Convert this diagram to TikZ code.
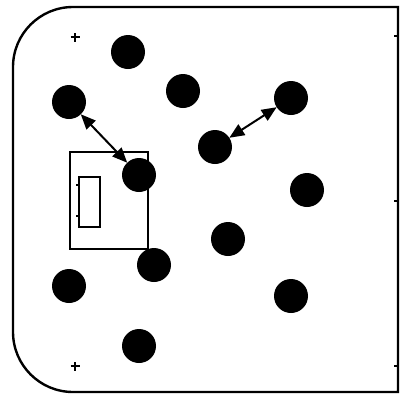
\documentclass[tikz,border=0pt]{standalone}
\usetikzlibrary{arrows.meta}
\begin{document}
\begin{tikzpicture}[x=1pt,y=-1pt,
  dot/.style={circle,fill=black,minimum size=34pt,inner sep=0pt,outer sep=0pt},
  link/.style={line width=2pt,{Triangle[length=15pt,width=12.5pt]}-{Triangle[length=15pt,width=12.5pt]}},
  frame/.style={line width=2.4pt},
  box/.style={line width=2.4pt},
  tick/.style={line width=1.8pt},
  plus/.style={line width=1.8pt}]
\useasboundingbox (0,0) rectangle (400,394);
% outline
\draw[frame] (398,7) -- (73,7) arc[start angle=90,end angle=180,radius=60pt] -- (13,332) arc[start angle=180,end angle=270,radius=60pt] -- (398,392) -- cycle;
% right ticks
\foreach \yy in {36,201,366} \draw[tick] (394,\yy) -- (398,\yy);
% plus marks
\coordinate (p1) at (75,37);
\coordinate (p2) at (75,366);
\foreach \p in {p1,p2} {
  \draw[plus] ([xshift=-4.5pt]\p) -- ([xshift=4.5pt]\p);
  \draw[plus] ([yshift=-4.5pt]\p) -- ([yshift=4.5pt]\p);
}
% rectangles
\draw[box] (70,152) rectangle (148,249);
\draw[line width=2pt] (79,177) rectangle (100,227);
\draw[tick] (76,185) -- (79,185);
\draw[tick] (76,216) -- (79,216);
% dots
\node[dot] (c1) at (128,52) {};
\node[dot] (c2) at (183,91) {};
\node[dot] (c3) at (69,102) {};
\node[dot] (c4) at (291,98) {};
\node[dot] (c5) at (215,147) {};
\node[dot] (c6) at (139,175) {};
\node[dot] (c7) at (307,190) {};
\node[dot] (c8) at (228,239) {};
\node[dot] (c9) at (154,265) {};
\node[dot] (c10) at (69,286) {};
\node[dot] (c11) at (291,296) {};
\node[dot] (c12) at (139,346) {};
% arrows
\draw[link] (c3) -- (c6);
\draw[link] (c5) -- (c4);
\end{tikzpicture}
\end{document}
